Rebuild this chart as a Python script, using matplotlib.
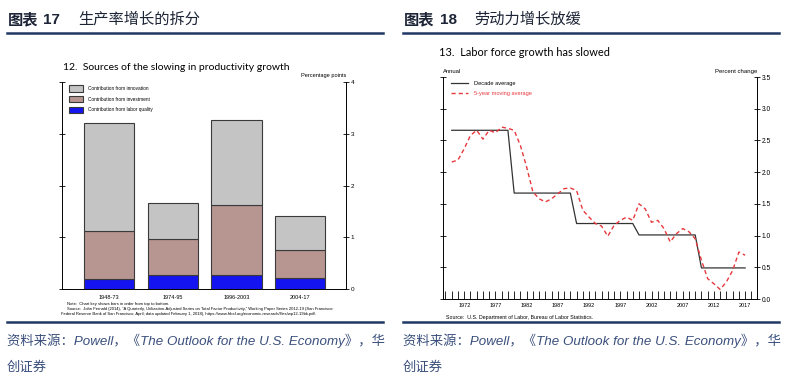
import matplotlib
matplotlib.use("Agg")
import matplotlib.pyplot as plt
from matplotlib.lines import Line2D
import numpy as np

plt.rcParams['font.family'] = ['Liberation Sans Narrow', 'Liberation Sans', 'Noto Sans CJK SC', 'DejaVu Sans']

# ---- left chart data: sources of productivity growth (percentage points)
periods = ["1948-73", "1974-95", "1996-2003", "2004-17"]
labor_quality = [0.19, 0.28, 0.28, 0.22]
investment = [0.94, 0.68, 1.35, 0.53]
innovation = [2.07, 0.70, 1.63, 0.66]

# ---- right chart data: labor force growth (percent change)
years = list(range(1970, 2018))
decade_avg = [2.66] * 10 + [1.67] * 10 + [1.19] * 10 + [1.01] * 10 + [0.49] * 8
moving_avg = [2.16, 2.19, 2.37, 2.58, 2.66, 2.52, 2.66, 2.62, 2.71, 2.69,
              2.66, 2.42, 2.08, 1.69, 1.58, 1.53, 1.58, 1.66, 1.74, 1.75,
              1.71, 1.40, 1.29, 1.19, 1.15, 0.99, 1.16, 1.24, 1.29, 1.24,
              1.50, 1.42, 1.21, 1.24, 1.11, 0.90, 1.03, 1.11, 1.06, 0.95,
              0.61, 0.32, 0.24, 0.15, 0.27, 0.45, 0.74, 0.69]
year_labels = [1972, 1977, 1982, 1987, 1992, 1997, 2002, 2007, 2012, 2017]

W, H = 800, 381
fig = plt.figure(figsize=(W / 100, H / 100), dpi=100)
navy = "#1f3864"
cap_color = "#3a4f7c"
head_color = "#1c2436"
cjk = ['Noto Sans CJK SC', 'DejaVu Sans']


def fx(px):
    return px / W


def fy(py):
    return 1 - py / H


##########################################################
# Headers, rules and captions
##########################################################
for x0, num, title, num_x, title_x in [(8, "17", "生产率增长的拆分", 43, 78),
                                       (404, "18", "劳动力增长放缓", 440, 474)]:
    fig.text(fx(x0), fy(24), "图表", family=cjk, fontsize=11, fontweight="bold",
             color=head_color, va="baseline")
    fig.text(fx(num_x), fy(24), num, family=['Liberation Sans'], fontsize=11,
             fontweight="bold", color=head_color, va="baseline")
    fig.text(fx(title_x), fy(24), title, family=cjk, fontsize=11,
             color=head_color, va="baseline")
    fig.add_artist(Line2D([fx(x0 - 1), fx(x0 + 375)], [fy(33), fy(33)],
                          color=navy, lw=1.8))
    fig.add_artist(Line2D([fx(x0 - 1), fx(x0 + 375)], [fy(322), fy(322)],
                          color=navy, lw=1.8))
    fig.text(fx(x0 - 1), fy(345),
             "资料来源：Powell，《The Outlook for the U.S. Economy》，华",
             family=['Liberation Sans', 'Noto Sans CJK SC'], style="italic",
             fontsize=9.6, color=cap_color, va="baseline")
    fig.text(fx(x0 - 1), fy(371), "创证券", family=cjk, fontsize=9.6,
             color=cap_color, va="baseline")

##########################################################
# Left chart: stacked bars
##########################################################
ax1 = fig.add_axes([fx(62), fy(289), fx(346) - fx(62), fy(82) - fy(289)])
x = np.arange(len(periods))
bw = 0.79
ec = "#3a3a3a"
ax1.bar(x, labor_quality, bw, color="#1414f0", edgecolor=ec, lw=0.8,
        label="Contribution from labor quality")
ax1.bar(x, investment, bw, bottom=labor_quality, color="#b79692", edgecolor=ec,
        lw=0.8, label="Contribution from investment")
ax1.bar(x, innovation, bw, bottom=np.add(labor_quality, investment),
        color="#c4c4c4", edgecolor=ec, lw=0.8, label="Contribution from innovation")
ax1.set_xlim(-0.74, 3.72)
ax1.set_ylim(0, 4)
ax1.set_xticks(x, periods)
ax1.set_yticks(range(5))
ax1.spines["top"].set_visible(False)
for s in ax1.spines.values():
    s.set_linewidth(0.7)
ax1.tick_params(axis="y", left=True, right=True, labelleft=False, labelright=True,
                direction="inout", length=4, width=0.6, labelsize=4.6, pad=1.5)
ax1.tick_params(axis="x", length=0, labelsize=4, pad=4)
h, l = ax1.get_legend_handles_labels()
ax1.legend(h[::-1], l[::-1], loc="upper left", bbox_to_anchor=(0.012, 1.0),
           fontsize=3.4, frameon=False, handlelength=3.0, handleheight=1.7,
           handletextpad=1.0, labelspacing=0.9, borderaxespad=0.3)
ax1.text(1.0, 1.02, "Percentage points", transform=ax1.transAxes, ha="right",
         va="bottom", fontsize=4.1)
fig.text(fx(63), fy(68), "12.  Sources of the slowing in productivity growth",
         family=['Lato', 'DejaVu Sans'], fontsize=7.5, va="center")
fig.text(fx(67), fy(304), "Note:  Chart key shows bars in order from top to bottom.",
         fontsize=3.0, va="center")
fig.text(fx(67), fy(309), "Source:  John Fernald (2014), \u201cA Quarterly, Utilization-Adjusted "
         "Series on Total Factor Productivity,\u201d Working Paper Series 2012-19 (San Francisco:",
         fontsize=3.0, va="center")
fig.text(fx(61), fy(314), "Federal Reserve Bank of San Francisco, April; data updated "
         "February 1, 2018), https://www.frbsf.org/economic-research/files/wp12-19bk.pdf.",
         fontsize=3.0, va="center")

##########################################################
# Right chart: labor force growth
##########################################################
ax2 = fig.add_axes([fx(443), fy(299), fx(757) - fx(443), fy(77) - fy(299)])
ax2.plot(years, decade_avg, color="#333333", lw=0.9, label="Decade average")
ax2.plot(years, moving_avg, color="#e8383d", lw=1.0, ls=(0, (3, 2.2)),
         label="5-year moving average")
ax2.set_xlim(1968.6, 2018.9)
ax2.set_ylim(0, 3.5)
ax2.set_yticks(np.arange(0, 3.51, 0.5), [f"{v:.1f}" for v in np.arange(0, 3.51, 0.5)])
ax2.set_xticks(year_labels, [str(y) for y in year_labels])
ax2.set_xticks(range(1969, 2019), minor=True)
ax2.spines["top"].set_visible(False)
for s in ax2.spines.values():
    s.set_linewidth(0.7)
ax2.tick_params(axis="y", left=True, right=True, labelleft=False, labelright=True,
                direction="inout", length=4, width=0.6, labelsize=4.8, pad=1.5)
ax2.tick_params(axis="x", which="both", direction="in", length=5.5, width=0.6,
                labelsize=4.0, pad=3)
leg = ax2.legend(loc="upper left", bbox_to_anchor=(0.012, 1.0), fontsize=4.1,
                 frameon=False, handlelength=3.0, handletextpad=1.0,
                 labelspacing=0.8, borderaxespad=0.3)
leg.get_texts()[1].set_color("#e8383d")
ax2.text(0.0, 1.015, "Annual", transform=ax2.transAxes, ha="left", va="bottom",
         fontsize=4.2)
ax2.text(1.0, 1.015, "Percent change", transform=ax2.transAxes, ha="right",
         va="bottom", fontsize=4.3)
fig.text(fx(439), fy(52), "13.  Labor force growth has slowed",
         family=['Lato', 'DejaVu Sans'], fontsize=7.9, va="center")
fig.text(fx(446), fy(318), "Source:  U.S. Department of Labor, Bureau of Labor Statistics.",
         fontsize=3.8, va="center")

fig.savefig("out.png", dpi=100)
